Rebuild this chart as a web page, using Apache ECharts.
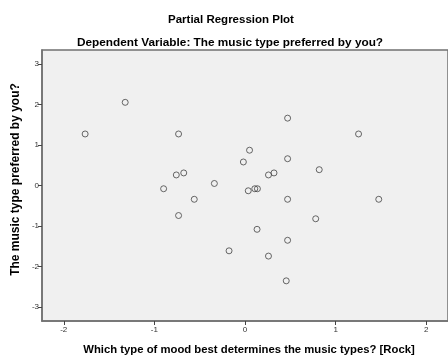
<!DOCTYPE html>
<html>
<head>
<meta charset="utf-8">
<script src="https://cdn.jsdelivr.net/npm/echarts@6/dist/echarts.min.js"></script>
<style>html,body{margin:0;padding:0;background:#fff;}#c{width:448px;height:360px;}</style>
</head>
<body>
<div id="c"></div>
<script>
const xValues = [-1.322, -1.764, -0.733, 0.05, -0.018, -0.758, -0.676, -0.338, -0.898, 0.036, 0.108, 0.137, 0.47, 1.253, 0.47, 0.259, 0.32, 0.819, -0.56, -0.733, -0.176, 0.47, 1.476, 0.78, 0.133, 0.47, 0.259, 0.455];
const yValues = [2.05, 1.27, 1.27, 0.87, 0.58, 0.26, 0.31, 0.05, -0.08, -0.13, -0.08, -0.08, 1.66, 1.27, 0.66, 0.26, 0.31, 0.39, -0.34, -0.74, -1.61, -0.34, -0.34, -0.82, -1.08, -1.35, -1.74, -2.35];
const xTicks = [-2, -1, 0, 1, 2];
const yTicks = [-3, -2, -1, 0, 1, 2, 3];
const titleText = 'Partial Regression Plot';
const subtitleText = 'Dependent Variable: The music type preferred by you?';
const xAxisTitle = 'Which type of mood best determines the music types? [Rock]';
const yAxisTitle = 'The music type preferred by you?';

const points = xValues.map((x, i) => [x, yValues[i]]);
const font = 'Liberation Sans, Arial, sans-serif';
const chart = echarts.init(document.getElementById('c'), null, {renderer: 'canvas'});
chart.setOption({
  animation: false,
  backgroundColor: '#ffffff',
  title: [
    {text: titleText, left: 226, top: 9, textAlign: 'center',
     textStyle: {fontFamily: font, fontSize: 11.5, fontWeight: 'bold', color: '#000'}},
    {text: subtitleText, left: 225, top: 32, textAlign: 'center',
     textStyle: {fontFamily: font, fontSize: 11.8, fontWeight: 'bold', color: '#000'}}
  ],
  graphic: [
    {type: 'text', x: 16, y: 179.5, rotation: Math.PI / 2,
     style: {text: yAxisTitle, font: 'bold 12px ' + font, fill: '#000', textAlign: 'center', textVerticalAlign: 'middle'}}
  ],
  grid: {left: 42, top: 50, width: 416, height: 278, show: true,
         backgroundColor: '#f0f0f0', borderColor: '#707070', borderWidth: 1.5},
  xAxis: {
    type: 'value', min: -2.24, max: 2.24,
    name: xAxisTitle, nameLocation: 'middle', nameGap: 23,
    nameTextStyle: {fontFamily: font, fontSize: 11.3, fontWeight: 'bold', color: '#000', padding: [0, 0, 0, 8]},
    splitLine: {show: false},
    axisLine: {show: true, onZero: false, lineStyle: {color: '#707070', width: 1.5}},
    axisTick: {show: true, length: 4, customValues: xTicks, lineStyle: {color: '#444'}},
    axisLabel: {customValues: xTicks, fontFamily: font, fontSize: 8, color: '#333', margin: 5}
  },
  yAxis: {
    type: 'value', min: -3.34, max: 3.34,
    splitLine: {show: false},
    axisLine: {show: true, onZero: false, lineStyle: {color: '#707070', width: 1.5}},
    axisTick: {show: true, length: 4, customValues: yTicks, lineStyle: {color: '#444'}},
    axisLabel: {customValues: yTicks, fontFamily: font, fontSize: 8, color: '#333', margin: 3}
  },
  series: [{
    type: 'scatter', data: points, symbol: 'circle', symbolSize: 6,
    itemStyle: {color: 'rgba(0,0,0,0)', borderColor: '#444444', borderWidth: 1}
  }]
});
</script>
</body>
</html>
